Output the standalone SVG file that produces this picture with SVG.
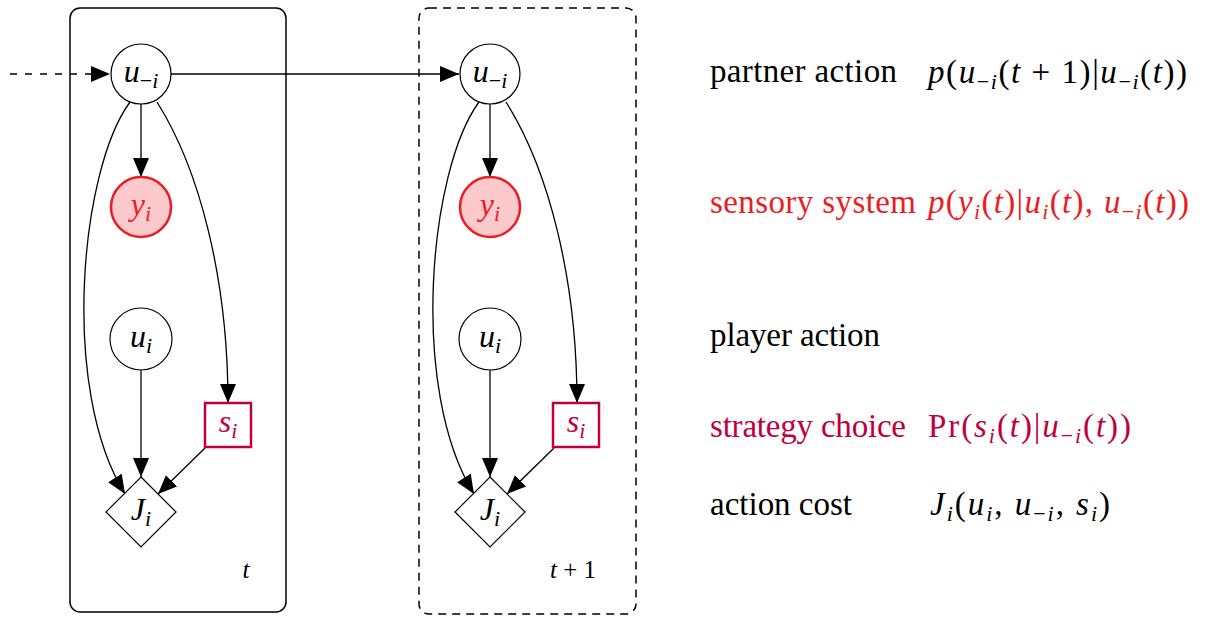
<svg xmlns="http://www.w3.org/2000/svg" width="1207" height="617" viewBox="0 0 1207 617">
  <defs>
    <marker id="arrow" markerUnits="userSpaceOnUse" markerWidth="19" markerHeight="16" refX="19" refY="8" orient="auto">
      <path d="M0,0 L19,8 L0,16 z" fill="#000"/>
    </marker>
    <style>
      .plate { fill: none; stroke: #000; stroke-width: 1.5; }
      .plate-next { fill: none; stroke: #000; stroke-width: 1.5; stroke-dasharray: 8 6; }
      .var { fill: #fff; stroke: #000; stroke-width: 1.2; }
      .obs { fill: #fccaca; stroke: #ec1c24; stroke-width: 2.5; }
      .strat { fill: #fff; stroke: #bf0040; stroke-width: 2.5; }
      .cost { fill: #fff; stroke: #000; stroke-width: 1.2; }
      .edge { fill: none; stroke: #000; stroke-width: 1.3; marker-end: url(#arrow); }
      .dashed { stroke-dasharray: 7 8; }
      text { font-family: "Liberation Serif", "DejaVu Serif", serif; fill: #000; }
      .lbl { font-size: 32px; text-anchor: middle; }
      .desc { font-size: 33px; }
      .math { font-size: 33px; }
      .it { font-style: italic; }
      .red { fill: #ec1c24; }
      .purple { fill: #bf0040; }
      .time { font-size: 25px; text-anchor: middle; }
    </style>
  </defs>

  <!-- time slice plates -->
  <g id="plate-t">
    <rect class="plate" x="70" y="8" width="216" height="604" rx="10"/>
    <text class="time" x="246" y="578"><tspan class="it">t</tspan></text>
  </g>
  <g id="plate-t1">
    <rect class="plate-next" x="419" y="8" width="217" height="606" rx="10"/>
    <text class="time" x="573" y="578"><tspan class="it">t</tspan> + 1</text>
  </g>

  <!-- connectors -->
  <g id="connectors">
    <path class="edge dashed" d="M10,74 L110,74"/>
    <path class="edge" d="M171,74 L459,74"/>
    <!-- slice t -->
    <path class="edge" d="M141,104 L141,177"/>
    <path class="edge" d="M130,102 C80,170 60,390 125,494"/>
    <path class="edge" d="M157,102 C200,170 228,280 228,403"/>
    <path class="edge" d="M141,370 L141,477"/>
    <path class="edge" d="M205,448 L158,494"/>
    <!-- slice t+1 -->
    <path class="edge" d="M490,104 L490,177"/>
    <path class="edge" d="M479,102 C429,170 409,390 474,494"/>
    <path class="edge" d="M506,102 C549,170 577,280 577,403"/>
    <path class="edge" d="M490,370 L490,477"/>
    <path class="edge" d="M554,448 L507,494"/>
  </g>

  <!-- slice t nodes -->
  <g id="u-minus-i-t">
    <circle class="var" cx="141" cy="74" r="30"/>
    <text class="lbl" x="141" y="82"><tspan class="it">u</tspan><tspan font-size="22" dy="6">−<tspan class="it">i</tspan></tspan></text>
  </g>
  <g id="y-i-t">
    <circle class="obs" cx="141" cy="207" r="30"/>
    <text class="lbl red" x="141" y="215"><tspan class="it">y</tspan><tspan class="it" font-size="22" dy="6">i</tspan></text>
  </g>
  <g id="u-i-t">
    <circle class="var" cx="141" cy="339" r="31"/>
    <text class="lbl" x="141" y="347"><tspan class="it">u</tspan><tspan class="it" font-size="22" dy="6">i</tspan></text>
  </g>
  <g id="s-i-t">
    <rect class="strat" x="205" y="403" width="46" height="44"/>
    <text class="lbl purple" x="228" y="432"><tspan class="it">s</tspan><tspan class="it" font-size="22" dy="6">i</tspan></text>
  </g>
  <g id="J-i-t">
    <path class="cost" d="M141,477 L176,512 L141,547 L106,512 z"/>
    <text class="lbl" x="141" y="520"><tspan class="it">J</tspan><tspan class="it" font-size="22" dy="6">i</tspan></text>
  </g>

  <!-- slice t+1 nodes -->
  <g id="u-minus-i-t1">
    <circle class="var" cx="490" cy="74" r="30"/>
    <text class="lbl" x="490" y="82"><tspan class="it">u</tspan><tspan font-size="22" dy="6">−<tspan class="it">i</tspan></tspan></text>
  </g>
  <g id="y-i-t1">
    <circle class="obs" cx="490" cy="207" r="30"/>
    <text class="lbl red" x="490" y="215"><tspan class="it">y</tspan><tspan class="it" font-size="22" dy="6">i</tspan></text>
  </g>
  <g id="u-i-t1">
    <circle class="var" cx="490" cy="339" r="31"/>
    <text class="lbl" x="490" y="347"><tspan class="it">u</tspan><tspan class="it" font-size="22" dy="6">i</tspan></text>
  </g>
  <g id="s-i-t1">
    <rect class="strat" x="553" y="403" width="46" height="44"/>
    <text class="lbl purple" x="576" y="432"><tspan class="it">s</tspan><tspan class="it" font-size="22" dy="6">i</tspan></text>
  </g>
  <g id="J-i-t1">
    <path class="cost" d="M490,477 L525,512 L490,547 L455,512 z"/>
    <text class="lbl" x="490" y="520"><tspan class="it">J</tspan><tspan class="it" font-size="22" dy="6">i</tspan></text>
  </g>

  <!-- legend -->
  <g id="legend-partner">
    <text class="desc" x="710" y="82" textLength="187">partner action</text>
    <text class="math" x="928" y="83" textLength="259"><tspan class="it">p</tspan>(<tspan class="it">u</tspan><tspan font-size="22" dy="6">−<tspan class="it">i</tspan></tspan><tspan dy="-6">(</tspan><tspan class="it">t</tspan> + 1)|<tspan class="it">u</tspan><tspan font-size="22" dy="6">−<tspan class="it">i</tspan></tspan><tspan dy="-6">(</tspan><tspan class="it">t</tspan>))</text>
  </g>
  <g id="legend-sensory">
    <text class="desc red" x="710" y="213" textLength="206">sensory system</text>
    <text class="math red" x="928" y="213" textLength="261"><tspan class="it">p</tspan>(<tspan class="it">y</tspan><tspan class="it" font-size="22" dy="6">i</tspan><tspan dy="-6">(</tspan><tspan class="it">t</tspan>)|<tspan class="it">u</tspan><tspan class="it" font-size="22" dy="6">i</tspan><tspan dy="-6">(</tspan><tspan class="it">t</tspan>), <tspan class="it">u</tspan><tspan font-size="22" dy="6">−<tspan class="it">i</tspan></tspan><tspan dy="-6">(</tspan><tspan class="it">t</tspan>))</text>
  </g>
  <g id="legend-player">
    <text class="desc" x="710" y="346" textLength="170">player action</text>
  </g>
  <g id="legend-strategy">
    <text class="desc purple" x="710" y="437" textLength="196">strategy choice</text>
    <text class="math purple" x="928" y="437" textLength="203">Pr(<tspan class="it">s</tspan><tspan class="it" font-size="22" dy="6">i</tspan><tspan dy="-6">(</tspan><tspan class="it">t</tspan>)|<tspan class="it">u</tspan><tspan font-size="22" dy="6">−<tspan class="it">i</tspan></tspan><tspan dy="-6">(</tspan><tspan class="it">t</tspan>))</text>
  </g>
  <g id="legend-cost">
    <text class="desc" x="710" y="515" textLength="142">action cost</text>
    <text class="math" x="930" y="515" textLength="180"><tspan class="it">J</tspan><tspan class="it" font-size="22" dy="6">i</tspan><tspan dy="-6">(</tspan><tspan class="it">u</tspan><tspan class="it" font-size="22" dy="6">i</tspan><tspan dy="-6">, </tspan><tspan class="it">u</tspan><tspan font-size="22" dy="6">−<tspan class="it">i</tspan></tspan><tspan dy="-6">, </tspan><tspan class="it">s</tspan><tspan class="it" font-size="22" dy="6">i</tspan><tspan dy="-6">)</tspan></text>
  </g>
</svg>
